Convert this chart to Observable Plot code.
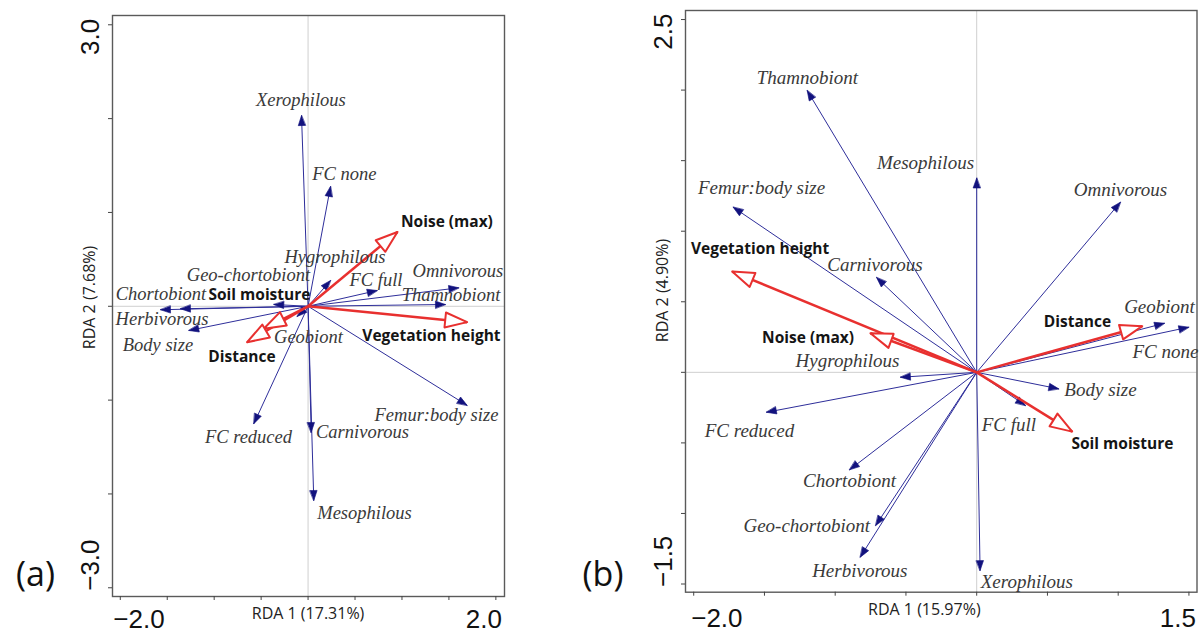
<!DOCTYPE html>
<html><head><meta charset="utf-8">
<script src="https://cdn.jsdelivr.net/npm/d3@7"></script>
<script src="https://cdn.jsdelivr.net/npm/@observablehq/plot@0.6"></script>
<style>
html,body{margin:0;padding:0;background:#fff;}
#wrap{position:relative;width:1203px;height:635px;overflow:hidden;background:#fff;}
#pa{position:absolute;left:0;top:0;}
#pb{position:absolute;left:560px;top:0;}
</style></head><body>
<div id="wrap"><div id="pa"></div><div id="pb"></div></div>
<script>
// ---------- Panel (a) ----------
const traitNamesA = ["Xerophilous","FC none","Hygrophilous","FC full","Omnivorous","Thamnobiont","Femur:body size","Carnivorous","Mesophilous","FC reduced","Geobiont","Geo-chortobiont","Chortobiont","Herbivorous","Body size"];
const traitRDA1A = [-0.070,0.239,0.239,0.736,1.605,1.463,1.694,0.033,0.061,-0.578,-0.116,-0.365,-1.359,-1.572,-1.270];
const traitRDA2A = [2.033,1.277,0.275,0.168,0.197,0.019,-1.056,-1.345,-2.070,-1.252,-0.109,0.019,-0.027,-0.037,-0.258];
const traitLabelRDA1A = [-0.076,0.386,0.286,0.723,1.596,1.522,1.367,0.579,0.601,-0.635,0.004,-0.635,-1.567,-1.556,-1.599];
const traitLabelRDA2A = [2.193,1.405,0.523,0.275,0.374,0.115,-1.164,-1.342,-2.205,-1.395,-0.333,0.328,0.126,-0.141,-0.418];
const envNamesA = ["Noise (max)","Vegetation height","Soil moisture","Distance"];
const envRDA1A = [0.952,1.694,-0.472,-0.649];
const envRDA2A = [0.792,-0.169,-0.240,-0.383];
const envLabelRDA1A = [1.479,1.314,-0.518,-0.704];
const envLabelRDA2A = [0.896,-0.322,0.115,-0.542];
const xTicksA = [-2,-1.5,-1,-0.5,0,0.5,1,1.5,2];
const yTicksA = [-3,-2,-1,0,1,2,3];
const xTickLabelsA = [-2.0, 2.0];
const yTickLabelsA = [-3.0, 3.0];
const axisTitlesA = ["RDA 1 (17.31%)","RDA 2 (7.68%)"];
const tagA = "(a)";

// ---------- Panel (b) ----------
const traitNamesB = ["Thamnobiont","Mesophilous","Femur:body size","Carnivorous","Omnivorous","Hygrophilous","FC reduced","Chortobiont","Geo-chortobiont","Herbivorous","Xerophilous","FC full","Body size","FC none","Geobiont"];
const traitRDA1B = [-1.198,0.0,-1.721,-0.708,1.016,-0.539,-1.486,-0.899,-0.714,-0.823,0.024,0.345,0.580,1.499,1.327];
const traitRDA2B = [1.997,1.377,1.170,0.672,1.206,-0.035,-0.283,-0.691,-1.086,-1.310,-1.405,-0.235,-0.117,0.320,0.348];
const traitLabelRDA1B = [-1.196,-0.362,-1.521,-0.719,1.016,-0.913,-1.606,-0.899,-1.201,-0.826,0.354,0.228,0.875,1.334,1.292];
const traitLabelRDA2B = [2.087,1.482,1.308,0.764,1.293,0.084,-0.417,-0.772,-1.086,-1.405,-1.488,-0.370,-0.124,0.142,0.466];
const envNamesB = ["Vegetation height","Noise (max)","Distance","Soil moisture"];
const envRDA1B = [-1.728,-0.751,1.170,0.675];
const envRDA2B = [0.714,0.277,0.327,-0.420];
const envLabelRDA1B = [-1.531,-1.192,0.712,1.030];
const envLabelRDA2B = [0.875,0.245,0.355,-0.507];
const xTicksB = [-2,-1.5,-1,-0.5,0,0.5,1,1.5];
const yTicksB = [-1.5,-1,-0.5,0,0.5,1,1.5,2,2.5];
const xTickLabelsB = [-2.0, 1.5];
const yTickLabelsB = [-1.5, 2.5];
const axisTitlesB = ["RDA 1 (15.97%)","RDA 2 (4.90%)"];
const tagB = "(b)";

const fmt = d3.format(".1f");
const BLUE_LINE = "#2e2e9a", BLUE_HEAD = "#12127e", RED = "#e8302f";
const headBlue = {draw(ctx, l) {ctx.moveTo(0,-l); ctx.lineTo(-3.6,-l+10); ctx.lineTo(3.6,-l+10); ctx.closePath();}};
const headRed = {draw(ctx, l) {ctx.moveTo(0,-l); ctx.lineTo(-7.5,-l+22); ctx.lineTo(7.5,-l+22); ctx.closePath();}};
const ang = d => Math.atan2(d.x, d.y) * 180 / Math.PI;

function panel(o) {
  const traits = o.tn.map((n,i)=>({name:n, x:o.tx[i], y:o.ty[i], lx:o.tlx[i], ly:o.tly[i]}));
  const envs = o.en.map((n,i)=>({name:n, x:o.ex[i], y:o.ey[i], lx:o.elx[i], ly:o.ely[i]}));
  const mid = {textAnchor: "middle", lineAnchor: "middle"};
  return Plot.plot({
    width: o.width, height: 635,
    marginLeft: o.ml, marginRight: o.mr, marginTop: o.mt, marginBottom: o.mb,
    x: {domain: o.xd}, y: {domain: o.yd},
    style: {background: "transparent", fontFamily: "Liberation Sans", overflow: "visible"},
    marks: [
      Plot.ruleX([0], {stroke: "#cfcfcf", strokeWidth: 1}),
      Plot.ruleY([0], {stroke: "#cfcfcf", strokeWidth: 1}),
      Plot.frame({stroke: "#5a5a5a", strokeWidth: 1.4}),
      Plot.axisX(o.xt, {anchor: "bottom", tickSize: 4, tickFormat: () => "", stroke: "#444", label: null}),
      Plot.axisY(o.yt, {anchor: "left", tickSize: 4, tickFormat: () => "", stroke: "#444", label: null}),
      Plot.link(traits, {x1: 0, y1: 0, x2: "x", y2: "y", stroke: BLUE_LINE, strokeWidth: 1}),
      Plot.vector(traits, {x: "x", y: "y", rotate: ang, length: 1, anchor: "end", shape: headBlue, fill: BLUE_HEAD, stroke: BLUE_HEAD, strokeWidth: 0.6}),
      Plot.link(envs, {x1: 0, y1: 0, x2: "x", y2: "y", stroke: RED, strokeWidth: 2.5}),
      Plot.vector(envs, {x: "x", y: "y", rotate: ang, length: 1, anchor: "end", shape: headRed, fill: "white", stroke: RED, strokeWidth: 2}),
      Plot.text(traits, {x: "lx", y: "ly", text: "name", fontStyle: "italic", fontFamily: "Liberation Serif", fontSize: o.fsI, fill: "#3a3a3a"}),
      Plot.text(envs, {x: "lx", y: "ly", text: "name", fontWeight: "bold", fontFamily: "Open Sans", fontSize: 15.5, fill: "#151515"}),
      Plot.text([o.xl[0]], {x: d => d, frameAnchor: "bottom", text: fmt, textAnchor: "start", lineAnchor: "middle", dx: o.xlDx[0], dy: o.xlDy, fontSize: 26, fill: "#111"}),
      Plot.text([o.xl[1]], {x: d => d, frameAnchor: "bottom", text: fmt, textAnchor: "end", lineAnchor: "middle", dx: o.xlDx[1], dy: o.xlDy, fontSize: 26, fill: "#111"}),
      Plot.text([o.yl[0]], {y: d => d, frameAnchor: "left", text: fmt, rotate: -90, textAnchor: "start", lineAnchor: "middle", dx: o.ylDx, dy: 3, fontSize: 26, fill: "#111"}),
      Plot.text([o.yl[1]], {y: d => d, frameAnchor: "left", text: fmt, rotate: -90, textAnchor: "end", lineAnchor: "middle", dx: o.ylDx, dy: -6, fontSize: 26, fill: "#111"}),
      Plot.text([o.at[0]], {x: o.atx, frameAnchor: "bottom", text: d => d, ...mid, dy: o.atDy, fontFamily: "Open Sans", fontSize: 16, fill: "#222"}),
      Plot.text([o.at[1]], {y: o.aty, frameAnchor: "left", text: d => d, ...mid, rotate: -90, dx: o.ylDx - 1, fontFamily: "Open Sans", fontSize: 16, fill: "#222"}),
      Plot.text([o.tag], {frameAnchor: "bottom-left", text: d => d, ...mid, dx: o.tagDx, dy: o.tagDy, fontFamily: "Open Sans", fontSize: 34, fill: "#111"})
    ]
  });
}

document.getElementById("pa").appendChild(panel({
  width: 530, ml: 112, mr: 26, mt: 15, mb: 39,
  xd: [-2.083, 2.092], yd: [-3.093, 3.099],
  xt: xTicksA, yt: yTicksA,
  tn: traitNamesA, tx: traitRDA1A, ty: traitRDA2A, tlx: traitLabelRDA1A, tly: traitLabelRDA2A,
  en: envNamesA, ex: envRDA1A, ey: envRDA2A, elx: envLabelRDA1A, ely: envLabelRDA2A,
  fsI: 18.5,
  xl: xTickLabelsA, xlDx: [-7, 6], xlDy: 23,
  yl: yTickLabelsA, ylDx: -21.5,
  at: axisTitlesA, atx: 0, atDy: 17, aty: 0.094,
  tag: tagA, tagDx: -77, tagDy: -21
}));

document.getElementById("pb").appendChild(panel({
  width: 643, ml: 125, mr: 6.5, mt: 10, mb: 43.3,
  xd: [-2.058, 1.557], yd: [-1.558, 2.564],
  xt: xTicksB, yt: yTicksB,
  tn: traitNamesB, tx: traitRDA1B, ty: traitRDA2B, tlx: traitLabelRDA1B, tly: traitLabelRDA2B,
  en: envNamesB, ex: envRDA1B, ey: envRDA2B, elx: envLabelRDA1B, ely: envLabelRDA2B,
  fsI: 19,
  xl: xTickLabelsB, xlDx: [-2.5, 7], xlDy: 26,
  yl: yTickLabelsB, ylDx: -22,
  at: axisTitlesB, atx: -0.37, atDy: 18, aty: 0.58,
  tag: tagB, tagDx: -82.5, tagDy: -16.7
}));
</script>
</body></html>
